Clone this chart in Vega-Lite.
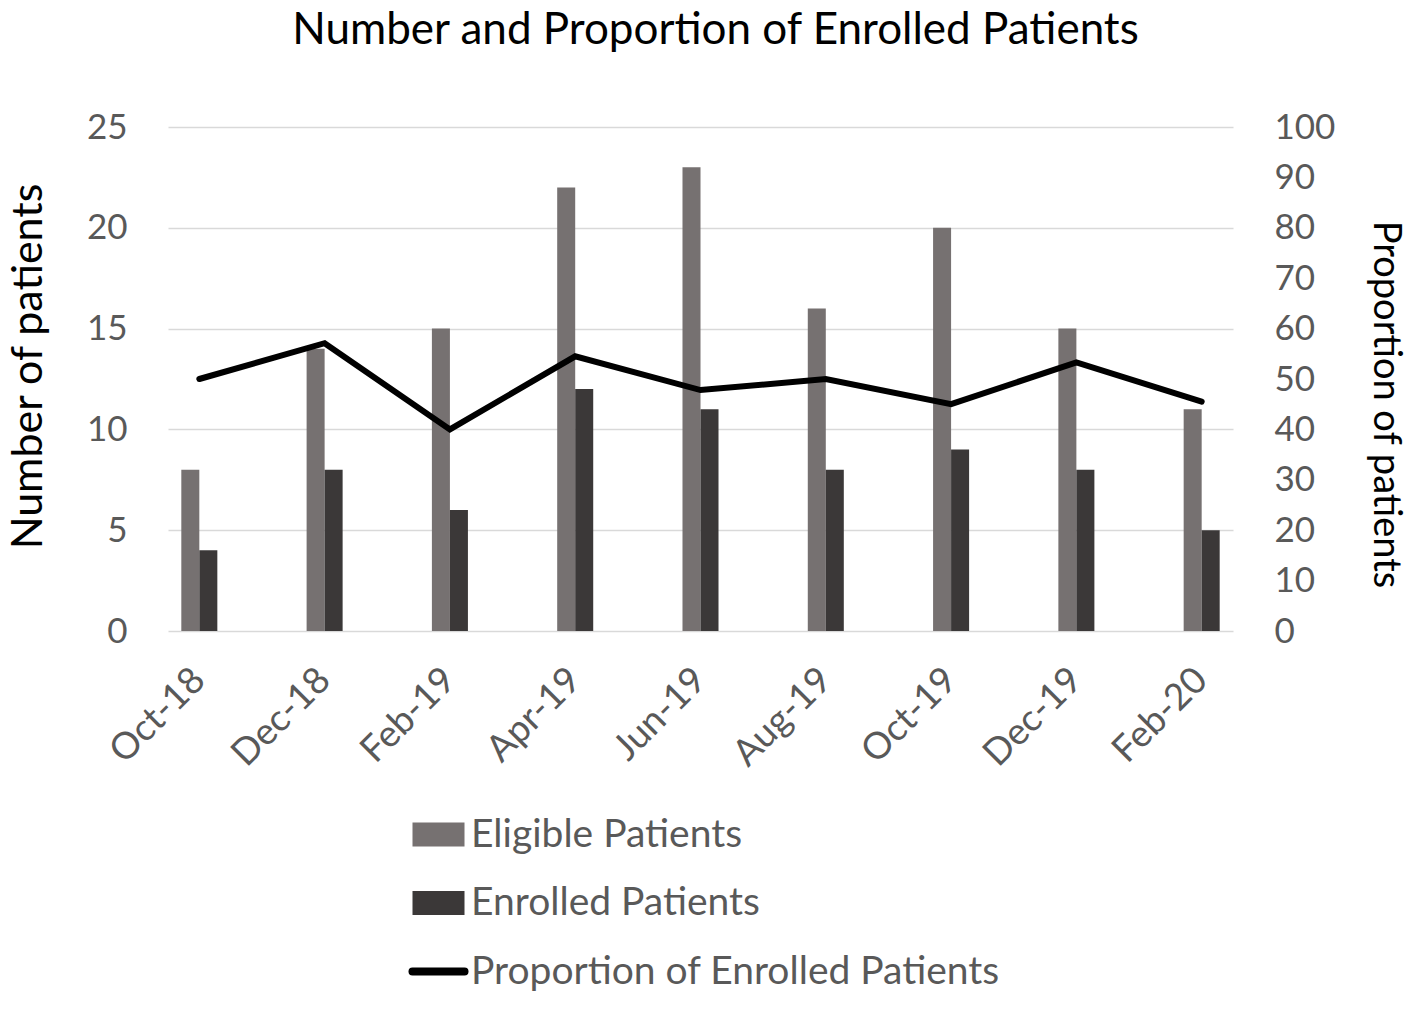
{
  "$schema": "https://vega.github.io/schema/vega-lite/v6.json",
  "width": 1065,
  "height": 504,
  "autosize": {"type": "none"},
  "padding": {"left": 168, "top": 127, "right": 179, "bottom": 380},
  "background": "white",
  "title": {
    "text": "Number and Proportion of Enrolled Patients",
    "font": "Lato",
    "fontSize": 44,
    "fontWeight": "normal",
    "color": "#000000",
    "anchor": "middle",
    "frame": "group",
    "offset": 57,
    "dx": 15
  },
  "datasets": {
    "counts": [
      {"month": "Oct-18", "series": "Eligible Patients", "patients": 8},
      {"month": "Oct-18", "series": "Enrolled Patients", "patients": 4},
      {"month": "Dec-18", "series": "Eligible Patients", "patients": 14},
      {"month": "Dec-18", "series": "Enrolled Patients", "patients": 8},
      {"month": "Feb-19", "series": "Eligible Patients", "patients": 15},
      {"month": "Feb-19", "series": "Enrolled Patients", "patients": 6},
      {"month": "Apr-19", "series": "Eligible Patients", "patients": 22},
      {"month": "Apr-19", "series": "Enrolled Patients", "patients": 12},
      {"month": "Jun-19", "series": "Eligible Patients", "patients": 23},
      {"month": "Jun-19", "series": "Enrolled Patients", "patients": 11},
      {"month": "Aug-19", "series": "Eligible Patients", "patients": 16},
      {"month": "Aug-19", "series": "Enrolled Patients", "patients": 8},
      {"month": "Oct-19", "series": "Eligible Patients", "patients": 20},
      {"month": "Oct-19", "series": "Enrolled Patients", "patients": 9},
      {"month": "Dec-19", "series": "Eligible Patients", "patients": 15},
      {"month": "Dec-19", "series": "Enrolled Patients", "patients": 8},
      {"month": "Feb-20", "series": "Eligible Patients", "patients": 11},
      {"month": "Feb-20", "series": "Enrolled Patients", "patients": 5}
    ],
    "proportion": [
      {"month": "Oct-18", "series": "Proportion of Enrolled Patients", "percent": 50.0},
      {"month": "Dec-18", "series": "Proportion of Enrolled Patients", "percent": 57.1},
      {"month": "Feb-19", "series": "Proportion of Enrolled Patients", "percent": 40.0},
      {"month": "Apr-19", "series": "Proportion of Enrolled Patients", "percent": 54.5},
      {"month": "Jun-19", "series": "Proportion of Enrolled Patients", "percent": 47.8},
      {"month": "Aug-19", "series": "Proportion of Enrolled Patients", "percent": 50.0},
      {"month": "Oct-19", "series": "Proportion of Enrolled Patients", "percent": 45.0},
      {"month": "Dec-19", "series": "Proportion of Enrolled Patients", "percent": 53.3},
      {"month": "Feb-20", "series": "Proportion of Enrolled Patients", "percent": 45.5}
    ]
  },
  "config": {
    "font": "Lato",
    "view": {"stroke": null},
    "axis": {
      "labelFont": "Lato",
      "titleFont": "Lato",
      "labelColor": "#595959",
      "titleColor": "#000000",
      "titleFontWeight": "normal",
      "ticks": false,
      "domain": false
    }
  },
  "encoding": {
    "x": {
      "field": "month",
      "type": "nominal",
      "sort": null,
      "scale": {
        "domain": ["Oct-18", "Nov-18", "Dec-18", "Jan-19", "Feb-19", "Mar-19", "Apr-19", "May-19", "Jun-19", "Jul-19", "Aug-19", "Sep-19", "Oct-19", "Nov-19", "Dec-19", "Jan-20", "Feb-20"],
        "paddingInner": 0.425,
        "paddingOuter": 0.2125
      },
      "axis": {
        "title": null,
        "values": ["Oct-18", "Dec-18", "Feb-19", "Apr-19", "Jun-19", "Aug-19", "Oct-19", "Dec-19", "Feb-20"],
        "labelAngle": -45,
        "labelAlign": "right",
        "labelBaseline": "middle",
        "labelFontSize": 37,
        "labelPadding": 43,
        "grid": false
      }
    }
  },
  "layer": [
    {
      "data": {"name": "counts"},
      "mark": {"type": "bar"},
      "encoding": {
        "xOffset": {
          "field": "series",
          "type": "nominal",
          "scale": {"domain": ["Eligible Patients", "Enrolled Patients"], "paddingInner": 0, "paddingOuter": 0}
        },
        "y": {
          "field": "patients",
          "type": "quantitative",
          "scale": {"domain": [0, 25]},
          "axis": {
            "title": "Number of patients",
            "titleFontSize": 43,
            "titleAngle": -90,
            "titleX": -140,
            "titleY": 239,
            "titleAlign": "center",
            "titleBaseline": "middle",
            "values": [0, 5, 10, 15, 20, 25],
            "labelFontSize": 35,
            "labelPadding": 41,
            "grid": true,
            "gridColor": "#d9d9d9",
            "gridWidth": 1.5
          }
        },
        "color": {
          "field": "series",
          "type": "nominal",
          "scale": {
            "domain": ["Eligible Patients", "Enrolled Patients", "Proportion of Enrolled Patients"],
            "range": ["#767171", "#3b3838", "#000000"]
          },
          "legend": {
            "title": null,
            "orient": "none",
            "direction": "vertical",
            "legendX": 251,
            "legendY": 688,
            "labelFont": "Lato",
            "labelFontSize": 39,
            "labelColor": "#595959",
            "labelLimit": 0,
            "labelOffset": 13,
            "rowPadding": 28.5,
            "symbolSize": 2704,
            "encode": {
              "symbols": {
                "update": {
                  "shape": {"signal": "datum.value === 'Proportion of Enrolled Patients' ? 'stroke' : 'M-1,-0.46H1V0.46H-1Z'"},
                  "fill": {"signal": "datum.value === 'Eligible Patients' ? '#767171' : datum.value === 'Enrolled Patients' ? '#3b3838' : 'transparent'"},
                  "stroke": {"signal": "datum.value === 'Proportion of Enrolled Patients' ? '#000000' : 'transparent'"},
                  "strokeWidth": {"signal": "datum.value === 'Proportion of Enrolled Patients' ? 8 : 0"},
                  "strokeCap": {"value": "round"},
                  "opacity": {"value": 1},
                  "fillOpacity": {"value": 1},
                  "size": {"value": 2704}
                }
              }
            }
          }
        }
      }
    },
    {
      "data": {"name": "proportion"},
      "mark": {"type": "line", "strokeWidth": 6, "strokeCap": "round", "strokeJoin": "miter"},
      "encoding": {
        "y": {
          "field": "percent",
          "type": "quantitative",
          "scale": {"domain": [0, 100]},
          "axis": {
            "orient": "right",
            "title": "Proportion of patients",
            "titleFontSize": 38,
            "titleAngle": 90,
            "titleX": 151,
            "titleY": 277,
            "titleAlign": "center",
            "titleBaseline": "middle",
            "values": [0, 10, 20, 30, 40, 50, 60, 70, 80, 90, 100],
            "labelFontSize": 35,
            "labelPadding": 41,
            "grid": false
          }
        },
        "color": {"field": "series", "type": "nominal"}
      }
    }
  ],
  "resolve": {"scale": {"y": "independent"}}
}
